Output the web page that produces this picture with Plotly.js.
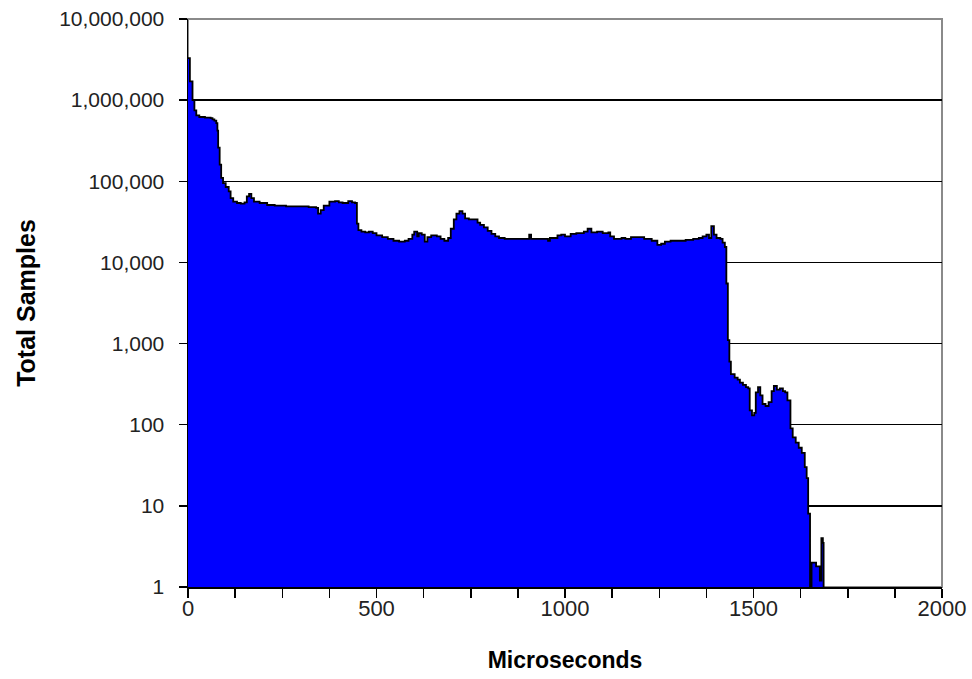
<!DOCTYPE html>
<html>
<head>
<meta charset="utf-8">
<script src="https://cdn.plot.ly/plotly-3.0.1.min.js"></script>
<style>html,body{margin:0;padding:0;background:#fff;}#chart{width:972px;height:679px;}</style>
</head>
<body>
<div id="chart"></div>
<script>
const microseconds = [
  0, 5, 12, 17, 22, 30, 45, 60, 65, 70,
  75, 78, 80, 84, 88, 93, 100, 108, 113, 120,
  130, 140, 150, 156, 162, 168, 175, 190, 210, 230,
  260, 290, 320, 340, 345, 352, 360, 375, 390, 400,
  410, 425, 435, 443, 448, 452, 460, 470, 480, 490,
  500, 515, 530, 545, 560, 575, 585, 595, 600, 608,
  612, 620, 628, 635, 645, 660, 670, 680, 690, 697,
  705, 712, 720, 728, 735, 745, 760, 768, 775, 785,
  795, 805, 815, 825, 840, 880, 900, 905, 910, 950,
  955, 960, 980, 990, 1000, 1015, 1030, 1050, 1060, 1070,
  1085, 1100, 1115, 1120, 1130, 1150, 1160, 1175, 1200, 1210,
  1230, 1245, 1255, 1265, 1280, 1300, 1320, 1340, 1355, 1365,
  1375, 1382, 1388, 1395, 1402, 1412, 1418, 1424, 1428, 1432,
  1436, 1440, 1450, 1458, 1464, 1472, 1480, 1486, 1490, 1496,
  1502, 1506, 1512, 1518, 1524, 1532, 1540, 1548, 1554, 1562,
  1570, 1578, 1584, 1590, 1598, 1604, 1612, 1620, 1628, 1636,
  1641, 1645, 1650, 1654, 1660, 1666, 1672, 1676, 1680, 1684,
  1686
];
const totalSamples = [
  3300000, 1700000, 1000000, 750000, 650000, 620000, 610000, 600000, 580000, 560000,
  520000, 420000, 260000, 160000, 110000, 95000, 85000, 75000, 62000, 56000,
  54000, 53000, 55000, 65000, 70000, 62000, 56000, 54000, 51000, 50000,
  49000, 49000, 48000, 47000, 40000, 44000, 50000, 56000, 57000, 55000,
  54000, 57000, 55000, 54000, 30000, 25000, 24000, 23500, 24000, 23000,
  21500, 20500, 19500, 18500, 18000, 18500, 19500, 22000, 24000, 21000,
  23000, 22000, 18000, 20500, 21500, 21000, 19500, 18500, 20000, 26000,
  34000, 40000, 43000, 40000, 35000, 34000, 34000, 31000, 29000, 27000,
  24500, 22500, 21000, 20000, 19500, 19500, 19500, 22000, 19500, 19500,
  18500, 20000, 21500, 22000, 21000, 22500, 23000, 24000, 26000, 23500,
  24000, 23000, 23500, 21000, 19500, 20000, 19500, 20500, 20500, 19500,
  18500, 16500, 17000, 18000, 18500, 18500, 19000, 19500, 20000, 21000,
  22000, 20000, 28000, 22000, 20000, 19500, 17500, 15500, 5500, 1100,
  600, 420, 380, 360, 330, 310, 290, 280, 150, 130,
  140, 250, 290, 230, 180, 170, 190, 260, 300, 270,
  280, 260, 250, 200, 90, 70, 60, 52, 45, 30,
  22, 8, 1, 2, 2, 1.8, 1.8, 1.2, 4, 3.5,
  1
];
const yTickVals = [1, 10, 100, 1000, 10000, 100000, 1000000, 10000000];
const yTickText = ['1', '10', '100', '1,000', '10,000', '100,000', '1,000,000', '10,000,000'];

const trace = {
  type: 'scatter',
  mode: 'lines',
  x: microseconds,
  y: totalSamples,
  line: {color: '#000000', width: 1.8, shape: 'hv'},
  fill: 'tozeroy',
  fillcolor: '#0000FF',
  hoverinfo: 'x+y',
  showlegend: false
};

const layout = {
  width: 972,
  height: 679,
  margin: {l: 188, r: 30, t: 19, b: 92},
  paper_bgcolor: '#ffffff',
  plot_bgcolor: '#ffffff',
  font: {family: 'Arial, "Liberation Sans", sans-serif', color: '#000000'},
  showlegend: false,
  xaxis: {
    range: [0, 2000],
    tick0: 0,
    dtick: 500,
    ticks: 'outside',
    ticklen: 9,
    tickwidth: 1.5,
    tickcolor: '#000000',
    ticklabelstandoff: -8,
    showline: true,
    linecolor: '#000000',
    linewidth: 1.5,
    showgrid: false,
    zeroline: false,
    tickfont: {size: 22, color: '#222222'},
    minor: {dtick: 125, ticks: 'outside', ticklen: 9, tickwidth: 1.5, tickcolor: '#000000', showgrid: false},
    title: {text: 'Microseconds', font: {size: 23, color: '#000000', weight: 'bold'}, standoff: 32}
  },
  yaxis: {
    type: 'log',
    range: [0, 7],
    tickvals: yTickVals,
    ticktext: yTickText,
    ticks: 'outside',
    ticklen: 8,
    tickwidth: 1.5,
    tickcolor: '#000000',
    ticklabelstandoff: 10,
    showline: true,
    linecolor: '#000000',
    linewidth: 1.5,
    showgrid: true,
    gridcolor: '#000000',
    gridwidth: 1.5,
    zeroline: false,
    tickfont: {size: 21, color: '#222222'},
    title: {text: 'Total Samples', font: {size: 25, color: '#000000', weight: 'bold'}, standoff: 16}
  },
  shapes: [{
    type: 'rect', xref: 'paper', yref: 'paper', x0: 0, x1: 1, y0: 0, y1: 1,
    line: {color: '#8a8a8a', width: 2}, layer: 'below'
  }]
};

Plotly.newPlot('chart', [trace], layout, {displayModeBar: false, staticPlot: true});
</script>
</body>
</html>
